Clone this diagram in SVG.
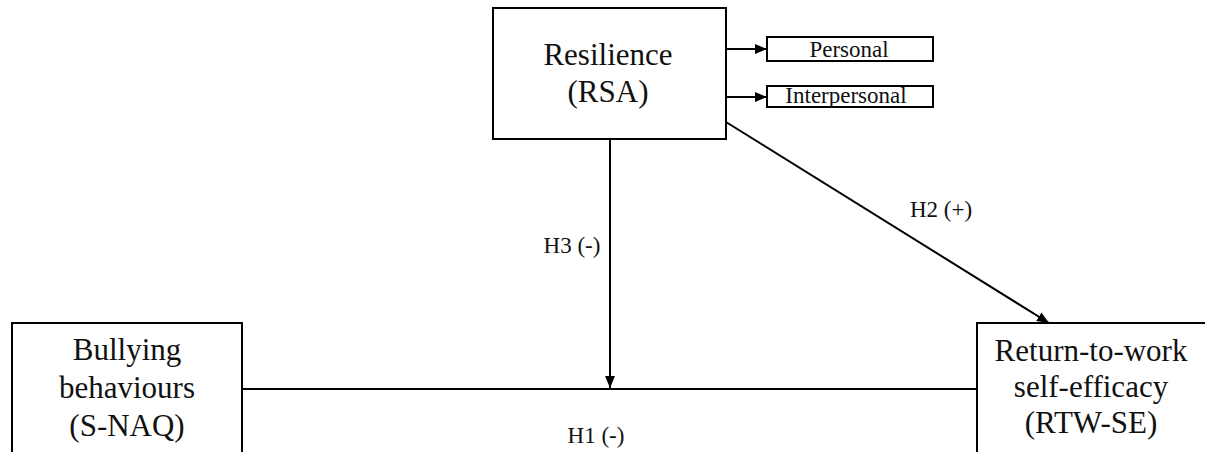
<svg xmlns="http://www.w3.org/2000/svg" width="1205" height="452" viewBox="0 0 1205 452">
<style>
.box{fill:#fff;stroke:#000;stroke-width:2}
.t{font-family:"Liberation Serif","Times New Roman",serif;fill:#111;text-anchor:middle}
.big{font-size:31px}
.sm{font-size:23px}
.ln{stroke:#000;stroke-width:2;fill:none}
</style>
<defs>
<marker id="ah" viewBox="0 0 12 10" refX="12" refY="5" markerWidth="12" markerHeight="10" markerUnits="userSpaceOnUse" orient="auto">
<path d="M0,0 L12,5 L0,10 Z" fill="#000"/>
</marker>
</defs>
<rect width="1205" height="452" fill="#fff"/>
<g id="connectors">
<line class="ln" x1="726" y1="49" x2="767" y2="49" marker-end="url(#ah)"/>
<line class="ln" x1="726" y1="97" x2="767" y2="97" marker-end="url(#ah)"/>
<line class="ln" x1="610" y1="139" x2="610" y2="388" marker-end="url(#ah)"/>
<line class="ln" x1="726" y1="122" x2="1049" y2="323" marker-end="url(#ah)"/>
<line class="ln" x1="242" y1="389" x2="977" y2="389"/>
<text class="t sm" x="596" y="443">H1 (-)</text>
<text class="t sm" x="572" y="253">H3 (-)</text>
<text class="t sm" x="941" y="217">H2 (+)</text>
</g>
<g id="rsa">
<rect class="box" x="493" y="8" width="233" height="131"/>
<text class="t big" x="608" y="65">Resilience</text>
<text class="t big" x="608" y="102">(RSA)</text>
</g>
<g id="personal">
<rect class="box" x="767" y="37" width="166" height="24"/>
<text class="t sm" x="849" y="57">Personal</text>
</g>
<g id="interpersonal">
<rect class="box" x="767" y="86" width="166" height="21"/>
<text class="t sm" x="846" y="103">Interpersonal</text>
</g>
<g id="bullying">
<rect class="box" x="12" y="323" width="230" height="140"/>
<text class="t big" x="127" y="360">Bullying</text>
<text class="t big" x="127" y="398">behaviours</text>
<text class="t big" x="127" y="436">(S-NAQ)</text>
</g>
<g id="rtw">
<rect class="box" x="977" y="323" width="240" height="140"/>
<text class="t big" x="1091" y="361">Return-to-work</text>
<text class="t big" x="1091" y="397">self-efficacy</text>
<text class="t big" x="1091" y="433">(RTW-SE)</text>
</g>
</svg>
